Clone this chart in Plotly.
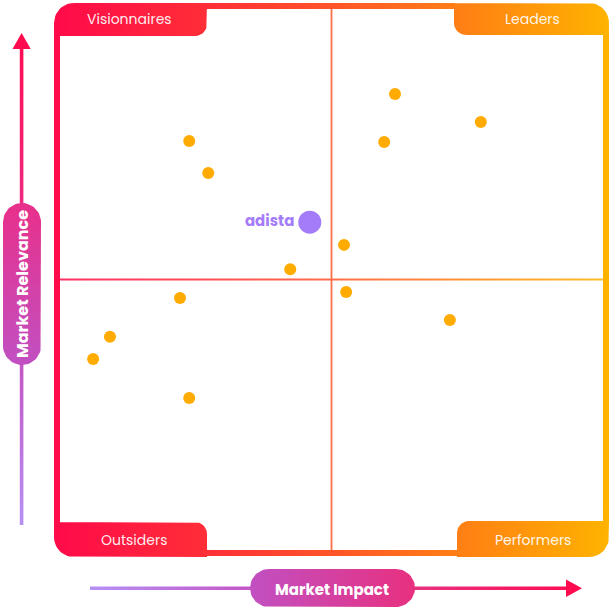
import math
import plotly.graph_objects as go

# ---------------- data ----------------
impact = [61.7, 77.5, 59.7, 23.8, 27.3, 52.3, 42.4, 52.7, 22.1, 71.8, 9.2, 6.1, 23.8]
relevance = [84.3, 79.1, 75.4, 75.6, 69.7, 56.4, 51.9, 47.7, 46.6, 42.5, 39.4, 35.3, 28.1]
highlight_label = ["adista"]
highlight_impact = [46.0]
highlight_relevance = [60.6]
quadrant_labels = ["Visionnaires", "Leaders", "Outsiders", "Performers"]
x_title = "Market Impact"
y_title = "Market Relevance"

# ---------------- styling / geometry ----------------
W, H = 611, 610
FX0, FX1, FY0, FY1 = 54, 609, 3, 556      # frame outer
T = 6                                      # frame thickness
IX0, IX1, IY0, IY1 = FX0 + T, FX1 - T, FY0 + T, FY1 - T
FRAME_SCALE = [[0, '#ff0a4a'], [0.26, '#ff2c38'], [0.5, '#ff5429'],
               [0.72, '#ff7d15'], [1, '#ffb300']]
DOT = '#ffab00'
HL = '#a47cf9'


def arc(cx, cy, r, a0, a1, n=14):
    pts = []
    for i in range(n + 1):
        a = math.radians(a0 + (a1 - a0) * i / n)
        pts.append((cx + r * math.cos(a), cy + r * math.sin(a)))
    return pts


def rrect(x0, x1, y0, y1, tl=0, tr=0, br=0, bl=0):
    pts = []
    pts += arc(x0 + tl, y0 + tl, tl, 180, 270) if tl else [(x0, y0)]
    pts += arc(x1 - tr, y0 + tr, tr, 270, 360) if tr else [(x1, y0)]
    pts += arc(x1 - br, y1 - br, br, 0, 90) if br else [(x1, y1)]
    pts += arc(x0 + bl, y1 - bl, bl, 90, 180) if bl else [(x0, y1)]
    pts.append(pts[0])
    return pts


def join(polys):
    xs, ys = [], []
    for p in polys:
        xs += [q[0] for q in p] + [None]
        ys += [q[1] for q in p] + [None]
    return xs[:-1], ys[:-1]


def grad_poly(polys, scale, gtype, start, stop, opacity=1.0):
    xs, ys = join(polys)
    return go.Scatter(x=xs, y=ys, mode='lines', line=dict(width=0),
                      fill='toself',
                      fillgradient=dict(type=gtype, colorscale=scale,
                                        start=start, stop=stop),
                      opacity=opacity, hoverinfo='skip', showlegend=False,
                      xaxis='x', yaxis='y')


fig = go.Figure()

# frame bars + tabs
frame_polys = [
    rrect(206, 455, FY0, IY0),           # top
    rrect(206, 458, IY1, FY1),           # bottom
    rrect(FX0, IX0, 35, 523),            # left
    rrect(IX1, FX1, 34, 522),            # right
    rrect(FX0, 207, FY0, 36, tl=20, br=12),          # Visionnaires
    rrect(454, FX1, FY0, 35, tr=20, bl=12),          # Leaders
    rrect(FX0, 207, 522, 557, bl=20, tr=12),         # Outsiders
    rrect(457, FX1, 521, 557, br=20, tl=12),         # Performers
]
fig.add_trace(grad_poly(frame_polys, FRAME_SCALE, 'horizontal', FX0, FX1))

# center cross lines
cx_pix = (IX0 + IX1) / 2
cy_pix = (IY0 + IY1) / 2
cross = [rrect(IX0, IX1, cy_pix - 0.9, cy_pix + 0.9),
         rrect(cx_pix - 0.9, cx_pix + 0.9, IY0, IY1)]
fig.add_trace(grad_poly(cross, FRAME_SCALE, 'horizontal', FX0, FX1, opacity=0.85))

# y arrow line + pill
Y_LINE_SCALE = [[0, '#ff0a4f'], [0.35, '#ee2a80'], [0.68, '#c456c6'], [1, '#b690f6']]
fig.add_trace(grad_poly([rrect(19.8, 23.4, 45, 525)], Y_LINE_SCALE, 'vertical', 33, 525))
fig.add_trace(go.Scatter(x=[21.6, 12.5, 30.7, 21.6], y=[33, 49, 49, 33], mode='lines',
                         line=dict(width=0), fill='toself', fillcolor='#ff0a4f',
                         hoverinfo='skip', showlegend=False, xaxis='x', yaxis='y'))
fig.add_trace(grad_poly([rrect(3, 41, 203, 365, tl=19, tr=19, br=19, bl=19)],
                        [[0, '#e8308a'], [1, '#c150c2']], 'vertical', 203, 365))

# x arrow line + pill
X_LINE_SCALE = [[0, '#b690f6'], [0.33, '#c456c6'], [0.67, '#e8307f'], [1, '#ff0a4f']]
fig.add_trace(grad_poly([rrect(90, 570, 586.5, 590)], X_LINE_SCALE, 'horizontal', 90, 582))
fig.add_trace(go.Scatter(x=[582, 566, 566, 582], y=[588.3, 579.5, 597, 588.3], mode='lines',
                         line=dict(width=0), fill='toself', fillcolor='#ff0a4f',
                         hoverinfo='skip', showlegend=False, xaxis='x', yaxis='y'))
fig.add_trace(grad_poly([rrect(250, 415, 569, 607, tl=19, tr=19, br=19, bl=19)],
                        [[0, '#c150c2'], [1, '#e8307f']], 'horizontal', 250, 415))

# data points
fig.add_trace(go.Scatter(x=impact, y=relevance, mode='markers',
                         marker=dict(size=12, color=DOT, line=dict(width=0)),
                         showlegend=False, xaxis='x2', yaxis='y2'))
fig.add_trace(go.Scatter(x=highlight_impact, y=highlight_relevance, mode='markers+text',
                         text=['<b>%s</b>' % t for t in highlight_label],
                         textposition='middle left',
                         textfont=dict(family='Poppins, Lato, sans-serif', size=15, color=HL),
                         marker=dict(size=23, color=HL, line=dict(width=0)),
                         showlegend=False, xaxis='x2', yaxis='y2', cliponaxis=False))

# annotations
tab_font = dict(family='Poppins, Open Sans, sans-serif', size=14, color='rgba(255,255,255,0.93)')
tab_pos = [(129, 19), (532, 19), (134, 540), (533, 540)]
ann = []
for lab, (tx, ty) in zip(quadrant_labels, tab_pos):
    ann.append(dict(x=tx, y=ty, xref='x', yref='y', text=lab, showarrow=False, font=tab_font))
ann.append(dict(x=332, y=589, xref='x', yref='y', text='<b>%s</b>' % x_title, showarrow=False,
                font=dict(family='Poppins, Open Sans, sans-serif', size=15, color='white')))
ann.append(dict(x=22, y=284, xref='x', yref='y', text='<b>%s</b>' % y_title, showarrow=False,
                textangle=-90,
                font=dict(family='Poppins, Open Sans, sans-serif', size=16, color='white')))

fig.update_layout(
    width=W, height=H, margin=dict(l=0, r=0, t=0, b=0),
    paper_bgcolor='white', plot_bgcolor='rgba(0,0,0,0)',
    xaxis=dict(domain=[0, 1], range=[0, W], visible=False, fixedrange=True),
    yaxis=dict(domain=[0, 1], range=[H, 0], visible=False, fixedrange=True),
    xaxis2=dict(domain=[IX0 / W, IX1 / W], range=[0, 100], visible=False, anchor='y2', fixedrange=True),
    yaxis2=dict(domain=[(H - IY1) / H, (H - IY0) / H], range=[0, 100], visible=False, anchor='x2', fixedrange=True),
    annotations=ann, showlegend=False,
)

fig.write_html("out.html", config={'displayModeBar': False},
               post_script="document.body.style.margin='0';document.body.style.overflow='hidden';")
